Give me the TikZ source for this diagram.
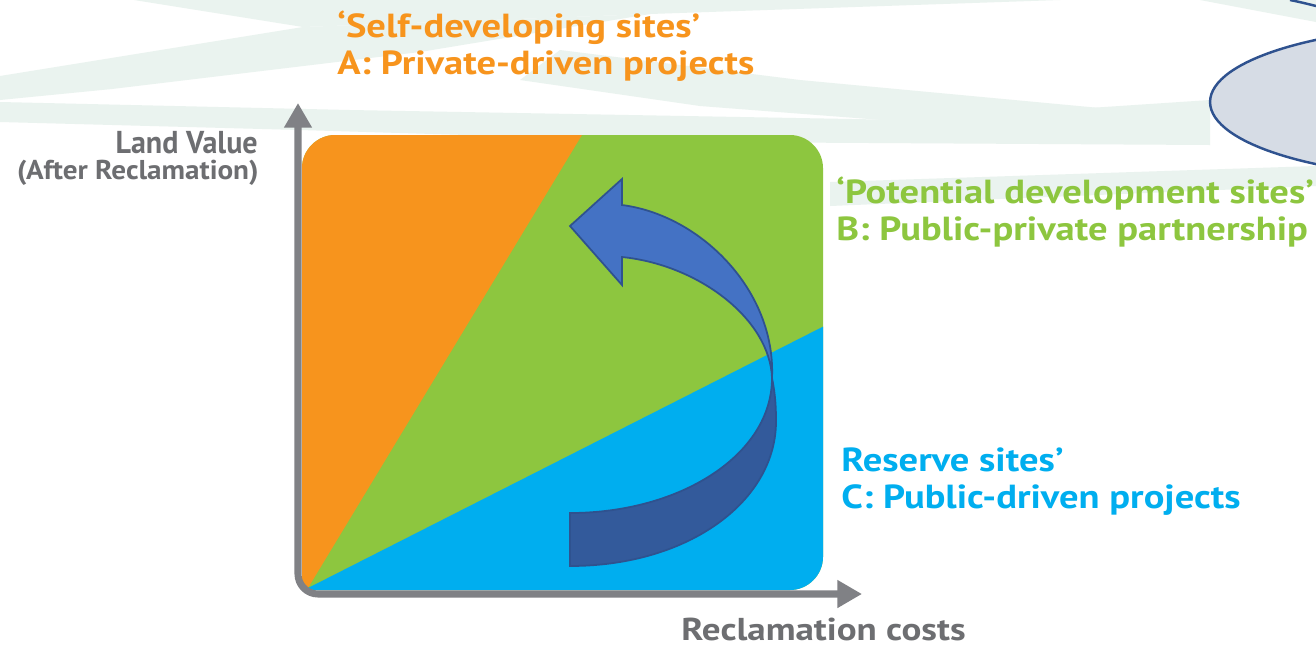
\documentclass[tikz,border=0pt]{standalone}
\usepackage{fontspec}
\setmainfont{PT Sans}
\usetikzlibrary{arrows.meta}
\definecolor{cOrange}{HTML}{F7941D}
\definecolor{cGreen}{HTML}{8DC63F}
\definecolor{cBlue}{HTML}{00AEEF}
\definecolor{cGrayTxt}{HTML}{6D6E71}
\definecolor{cAxis}{HTML}{808185}
\definecolor{cPale}{HTML}{EAF3EF}
\definecolor{cArrowUp}{HTML}{4472C4}
\definecolor{cArrowDn}{HTML}{335A9B}
\definecolor{cArrowLine}{HTML}{2F528F}
\definecolor{cEllFill}{HTML}{D6DCE5}
\tikzset{
  pale/.style={fill=cPale, draw=none},
  axisline/.style={draw=cAxis, line width=4pt},
  lbl/.style={inner sep=0pt, xscale=1.155, font=\bfseries\fontsize{19}{21}\selectfont, align=left},
  axlbl/.style={inner sep=0pt, text=cGrayTxt, font=\bfseries\fontsize{18}{21}\selectfont},
  sublbl/.style={inner sep=0pt, xscale=1.07, text=cGrayTxt, font=\bfseries\fontsize{15.5}{17}\selectfont},
  arrowpart/.style={draw=cArrowLine, line width=1pt, line join=miter},
  bubble/.style={fill=cEllFill, draw=cArrowLine, line width=1.4pt}
}
\begin{document}
\begin{tikzpicture}[x=0.02cm,y=-0.02cm]
\useasboundingbox (0,0) rectangle (1316,647);
\fill[white] (0,0) rectangle (1316,647);
% background stripes
\fill[pale] (134,0) -- (1060,0) -- (650,14) -- (303,27) -- cycle;
\fill[pale] (0,76) -- (303,27) -- (650,14) -- (420,52) -- (112,89) -- (0,100) -- cycle;
\fill[pale] (0,102) -- (350,110) -- (908,120) -- (1210,100) -- (1210,145) -- (700,142) -- (300,130) -- (0,122) -- cycle;
\fill[pale] (560,50) -- (800,80) -- (1100,108) -- (908,122) -- (700,106) -- (520,80) -- cycle;
\fill[pale] (1200,0) -- (1316,0) -- (1316,22) -- cycle;
\fill[pale] (830,182) -- (1316,166) -- (1316,186) -- (830,206) -- cycle;
% bubble top right
\draw[bubble] (1460,102) ellipse [x radius=5cm, y radius=1.52cm];
\draw[draw=cArrowLine, line width=1.4pt] (1290,0) .. controls (1300,2) and (1308,4) .. (1316,6);
% coloured square
\begin{scope}
\clip (314,590) .. controls (307,590) and (302,585) .. (302,578) -- (302,168)
  .. controls (302,150) and (317,135) .. (335,135) -- (790,135)
  .. controls (808,135) and (823,150) .. (823,168) -- (823,557)
  .. controls (823,575) and (808,590) .. (790,590) -- cycle;
\fill[cGreen] (290,120) rectangle (840,610);
\fill[cOrange] (308,588) -- (591,120) -- (290,120) -- (290,610) -- cycle;
\fill[cBlue] (308,588) -- (840,318) -- (840,610) -- (290,610) -- cycle;
\end{scope}
% curved arrow
\fill[arrowpart, fill=cArrowDn] (570,513) .. controls (680,513) and (772,455) .. (772,378)
  .. controls (774,388) and (776,400) .. (776,420)
  .. controls (777,500) and (690,566) .. (570,566) -- cycle;
\fill[arrowpart, fill=cArrowUp] (772,378) .. controls (776,290) and (700,215) .. (622,205)
  -- (622,179) -- (570,226) -- (622,285) -- (622,257)
  .. controls (700,265) and (770,320) .. (772,378) -- cycle;
% axes
\coordinate (ytip) at (298,103);
\coordinate (xtip) at (862,594);
\draw[axisline, {Triangle[length=14pt,width=15pt]}-{Triangle[length=14pt,width=15pt]}]
  (ytip) -- (298,574) .. controls (298,585) and (307,594) .. (318,594) -- (xtip);
% labels
\node[lbl, text=cOrange, anchor=base west] (labA) at (337,74) {‘Self-developing sites’\\A: Private-driven projects};
\node[lbl, text=cGreen, anchor=base west] (labB) at (836,240) {‘Potential development sites’\\B: Public-private partnership};
\node[lbl, text=cBlue, anchor=base west] (labC) at (841,508) {Reserve sites’\\C: Public-driven projects};
\node[axlbl, xscale=0.95, anchor=base east] (yl) at (258,153) {Land Value};
\node[sublbl, anchor=base east] (yl2) at (259,179) {(After Reclamation)};
\node[axlbl, xscale=1.17, anchor=base west] (xl) at (681,640) {Reclamation costs};
\end{tikzpicture}
\end{document}
